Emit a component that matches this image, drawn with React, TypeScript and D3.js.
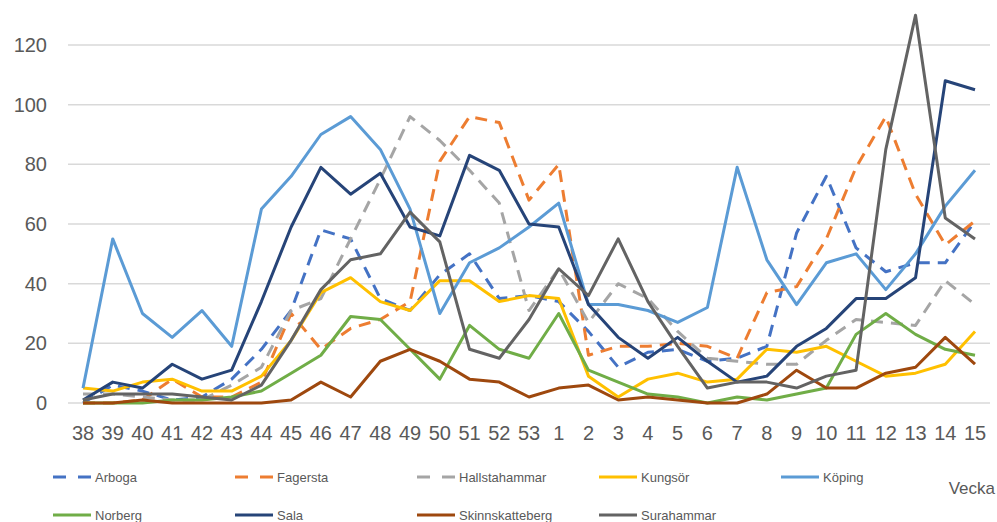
import * as d3 from 'd3';

const WEEKS = ['38', '39', '40', '41', '42', '43', '44', '45', '46', '47', '48', '49', '50', '51', '52', '53',
  '1', '2', '3', '4', '5', '6', '7', '8', '9', '10', '11', '12', '13', '14', '15'];

const arboga = [0, 6, 4, 1, 2, 8, 18, 31, 58, 55, 35, 31, 43, 50, 35, 36, 34, 24, 12, 17, 18, 14, 15, 19, 57, 76, 52, 44, 47, 47, 61];
const fagersta = [0, 0, 1, 8, 2, 2, 7, 30, 18, 25, 28, 34, 81, 96, 94, 68, 80, 16, 19, 19, 20, 19, 15, 37, 39, 55, 79, 96, 70, 53, 61];
const hallstahammar = [3, 3, 2, 1, 1, 6, 12, 31, 35, 55, 75, 96, 88, 78, 67, 31, 45, 27, 40, 35, 24, 15, 14, 13, 13, 21, 28, 27, 26, 41, 33];
const kungsor = [5, 4, 7, 8, 4, 4, 9, 21, 37, 42, 34, 31, 41, 41, 34, 36, 35, 9, 2, 8, 10, 7, 8, 18, 17, 19, 14, 9, 10, 13, 24];
const koping = [5, 55, 30, 22, 31, 19, 65, 76, 90, 96, 85, 65, 30, 47, 52, 59, 67, 33, 33, 31, 27, 32, 79, 48, 33, 47, 50, 38, 50, 66, 78];
const norberg = [0, 0, 0, 1, 1, 2, 4, 10, 16, 29, 28, 18, 8, 26, 18, 15, 30, 11, 7, 3, 2, 0, 2, 1, 3, 5, 23, 30, 23, 18, 16];
const sala = [1, 7, 5, 13, 8, 11, 34, 59, 79, 70, 77, 59, 56, 83, 78, 60, 59, 33, 22, 15, 22, 14, 7, 9, 19, 25, 35, 35, 42, 108, 105];
const skinnskatteberg = [0, 0, 1, 0, 0, 0, 0, 1, 7, 2, 14, 18, 14, 8, 7, 2, 5, 6, 1, 2, 1, 0, 0, 3, 11, 5, 5, 10, 12, 22, 13];
const surahammar = [1, 3, 3, 3, 2, 1, 6, 21, 38, 48, 50, 64, 54, 18, 15, 28, 45, 36, 55, 34, 19, 5, 7, 7, 5, 9, 11, 85, 130, 62, 55];

const Y_TICKS = [0, 20, 40, 60, 80, 100, 120];

const SERIES = [
  { name: 'Arboga', values: arboga, color: '#4472C4', dashed: true },
  { name: 'Fagersta', values: fagersta, color: '#ED7D31', dashed: true },
  { name: 'Hallstahammar', values: hallstahammar, color: '#A5A5A5', dashed: true },
  { name: 'Kungsör', values: kungsor, color: '#FFC000', dashed: false },
  { name: 'Köping', values: koping, color: '#5B9BD5', dashed: false },
  { name: 'Norberg', values: norberg, color: '#70AD47', dashed: false },
  { name: 'Sala', values: sala, color: '#264478', dashed: false },
  { name: 'Skinnskatteberg', values: skinnskatteberg, color: '#9E480E', dashed: false },
  { name: 'Surahammar', values: surahammar, color: '#636363', dashed: false },
];

const W = 997, H = 522;
const FONT = '"Liberation Sans", Arial, sans-serif';
const TEXT = '#595959';

export default function App() {
  const x = d3.scalePoint<string>().domain(WEEKS).range([83, 975]);
  const y = d3.scaleLinear().domain([0, 120]).range([403, 45]);

  const line = d3.line<number>()
    .x((_, i) => x(WEEKS[i])!)
    .y((d) => y(d));

  return (
    <svg width={W} height={H} style={{ position: 'absolute', left: 0, top: 0, background: '#fff' }}
      fontFamily={FONT}>
      {/* grid + y labels */}
      {Y_TICKS.map((t) => (
        <g key={t}>
          <line x1={68} x2={990} y1={y(t)} y2={y(t)} stroke="#d9d9d9" strokeWidth={1.5} />
          <text x={47} y={y(t)} dy="0.35em" textAnchor="end" fontSize={20} fill={TEXT}>{t}</text>
        </g>
      ))}

      {/* x labels */}
      {WEEKS.map((w) => (
        <text key={w} x={x(w)} y={440} textAnchor="middle" fontSize={20} fill={TEXT}>{w}</text>
      ))}

      {/* series */}
      {SERIES.map((s) => (
        <path key={s.name} d={line(s.values) ?? ''} fill="none" stroke={s.color} strokeWidth={3}
          strokeDasharray={s.dashed ? '12,8' : undefined} strokeLinejoin="round" />
      ))}

      {/* legend */}
      {SERIES.map((s, i) => {
        const col = i < 5 ? i : i - 5;
        const lx = 53 + col * 182;
        const ly = i < 5 ? 477 : 515;
        return (
          <g key={s.name}>
            <line x1={lx} x2={lx + 38} y1={ly} y2={ly} stroke={s.color} strokeWidth={3}
              strokeDasharray={s.dashed ? '13,12' : undefined} />
            <text x={lx + 42} y={ly} dy="0.35em" fontSize={13} fill={TEXT}>{s.name}</text>
          </g>
        );
      })}

      <text x={995} y={488} dy="0.35em" textAnchor="end" fontSize={17} fill={TEXT}>Vecka</text>
    </svg>
  );
}
